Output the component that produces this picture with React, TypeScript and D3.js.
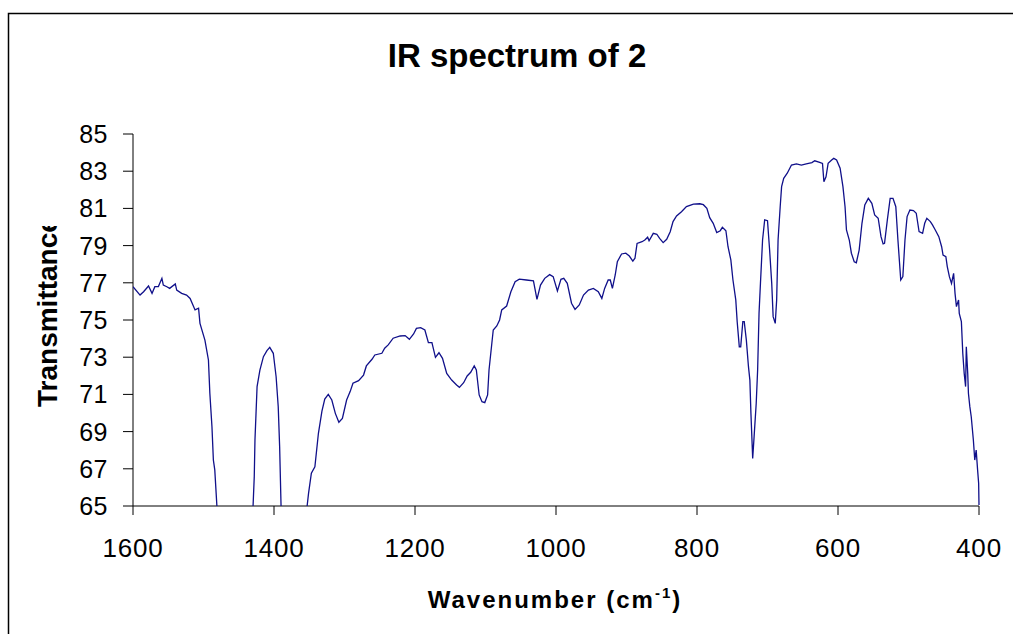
import React, { useEffect } from 'react';
import * as d3 from 'd3';

// IR spectrum: wavenumber (cm-1) and % transmittance
const wavenumbers = [
  1600, 1590, 1585, 1578, 1573, 1569, 1564, 1559, 1557, 1552, 1548, 1540, 1538, 1531, 1524, 1519,
  1512, 1507, 1505, 1498, 1493, 1491, 1488, 1486, 1484, 1481, 1478, 1465, 1450, 1438, 1431, 1428,
  1427, 1425.5, 1424, 1420, 1415, 1410, 1406, 1401, 1397, 1394, 1392, 1390, 1387, 1375, 1362, 1356,
  1351, 1347, 1342, 1337, 1332, 1328, 1323, 1318, 1313, 1308, 1303, 1297, 1292, 1288, 1280, 1273,
  1269, 1261, 1257, 1247, 1243, 1238, 1231, 1221, 1214, 1208, 1202, 1198, 1192, 1186, 1181, 1176,
  1171, 1166, 1161, 1155, 1148, 1141, 1137, 1131, 1126, 1121, 1116, 1113, 1109, 1105, 1101, 1097,
  1095, 1091, 1089, 1084, 1080, 1077, 1070, 1064, 1058, 1052, 1042, 1032, 1027, 1022, 1016, 1009,
  1004, 998, 993, 989, 984, 978, 973, 967, 961, 954, 947, 940, 935, 931, 926, 923,
  920, 916, 913, 907, 901, 896, 891, 888, 885, 878, 874, 870, 868, 862, 857, 853,
  848, 843, 838, 834, 829, 822, 815, 805, 796, 791, 786, 782, 777, 772, 767, 764,
  759, 756, 752, 749, 745, 743, 740, 738, 735, 733, 730, 727, 725, 723.5, 721, 719,
  716, 714, 712, 710, 707, 704, 700, 697, 694, 692, 689, 687, 685, 682, 680, 677,
  672, 666, 659, 652, 645, 637, 633, 626, 622, 620, 617, 614, 609, 606, 602, 597,
  593, 590, 588, 584, 581, 577, 574, 570, 566, 562, 557, 552, 548, 543, 539, 536,
  534, 530, 526, 522, 518, 515, 511, 508, 505, 502, 498, 493, 489, 485, 480, 477,
  474, 469, 466, 462, 457, 453, 451, 447, 445, 442, 439, 436, 434, 432, 429, 428,
  425, 423, 421, 419, 418, 416, 415, 413, 411, 408, 406, 404, 402, 400.5, 400,
];
const transmittance = [
  76.79, 76.34, 76.52, 76.83, 76.43, 76.79, 76.8, 77.24, 76.88, 76.79, 76.7, 76.94, 76.61, 76.43, 76.34, 76.16,
  75.54, 75.63, 74.82, 73.92, 72.85, 71.06, 69.26, 67.47, 66.94, 65.0, 63.5, 59.5, 58.0, 60.5, 63.8, 66.58,
  68.55, 69.98, 71.42, 72.31, 73.03, 73.35, 73.53, 73.21, 71.95, 70.34, 68.19, 65.0, 62.5, 58.5, 61.0, 64.0,
  65.68, 66.76, 67.11, 68.91, 70.1, 70.75, 71.0, 70.7, 69.98, 69.5, 69.71, 70.7, 71.15, 71.6, 71.74, 72.04,
  72.53, 72.89, 73.12, 73.21, 73.48, 73.66, 74.02, 74.14, 74.16, 73.96, 74.25, 74.55, 74.59, 74.46, 73.78, 73.78,
  72.99, 73.24, 72.94, 72.13, 71.77, 71.51, 71.38, 71.63, 71.99, 72.19, 72.53, 72.31, 70.97, 70.61, 70.56, 70.97,
  72.31, 73.75, 74.46, 74.68, 75.0, 75.54, 75.75, 76.52, 77.06, 77.2, 77.15, 77.1, 76.11, 76.88, 77.24, 77.44,
  77.33, 76.56, 77.19, 77.24, 76.97, 75.9, 75.57, 75.81, 76.34, 76.61, 76.7, 76.52, 76.16, 76.7, 77.15, 77.15,
  76.7, 77.42, 78.13, 78.55, 78.59, 78.44, 78.17, 78.32, 79.12, 79.21, 79.3, 79.45, 79.26, 79.66, 79.61, 79.39,
  79.16, 79.34, 79.75, 80.29, 80.59, 80.82, 81.1, 81.23, 81.25, 81.2, 81.0, 80.5, 80.2, 79.7, 79.8, 79.98,
  79.8, 78.94, 78.23, 77.15, 76.08, 74.91, 73.56, 73.56, 74.91, 74.91, 73.92, 72.49, 71.77, 69.98, 67.56, 68.73,
  70.52, 72.31, 75.36, 76.97, 79.3, 80.38, 80.34, 78.76, 76.97, 75.18, 74.82, 76.08, 79.3, 81.09, 82.17, 82.62,
  82.89, 83.33, 83.39, 83.33, 83.39, 83.46, 83.56, 83.48, 83.42, 82.44, 82.7, 83.42, 83.6, 83.69, 83.6, 83.16,
  82.17, 81.09, 79.84, 79.3, 78.59, 78.13, 78.08, 78.76, 80.2, 81.18, 81.54, 81.27, 80.65, 80.47, 79.48, 79.09,
  79.12, 80.38, 81.54, 81.54, 81.09, 79.3, 77.15, 77.33, 79.3, 80.56, 80.91, 80.88, 80.74, 79.75, 79.66, 80.2,
  80.47, 80.29, 80.11, 79.84, 79.48, 78.94, 78.49, 78.4, 77.87, 77.33, 76.97, 77.51, 76.43, 75.72, 76.08, 75.36,
  74.91, 73.21, 72.13, 71.42, 73.56, 72.13, 71.06, 70.34, 69.8, 68.55, 67.47, 68.01, 66.94, 66.22, 65.05,
];
const xTicks = [1600, 1400, 1200, 1000, 800, 600, 400];
const yTicks = [65, 67, 69, 71, 73, 75, 77, 79, 81, 83, 85];

const W = 1013;
const H = 634;
const font = 'Arial, "Liberation Sans", sans-serif';

export default function App() {
  useEffect(() => {
    document.body.style.margin = '0';
  }, []);

  const x = d3.scaleLinear().domain([1600, 400]).range([133, 979]);
  const y = d3.scaleLinear().domain([65, 85]).range([506, 134]);

  const points: [number, number][] = wavenumbers.map((w, i) => [w, transmittance[i]]);
  const line = d3
    .line<[number, number]>()
    .x((d) => x(d[0]))
    .y((d) => y(d[1]));

  const [x0, x1] = x.range();
  const [y0, y1] = y.range();

  return (
    <svg width={W} height={H} style={{ display: 'block', background: '#fff' }}>
      <defs>
        <clipPath id="plot">
          <rect x={x0} y={y1 - 2} width={x1 - x0 + 2} height={y0 - y1 + 2} />
        </clipPath>
        <clipPath id="ylab">
          <rect x={0} y={226} width={120} height={300} />
        </clipPath>
      </defs>

      {/* outer frame, runs off the page on the right and bottom */}
      <rect x={8.5} y={13.5} width={1100} height={1000} fill="none" stroke="#000" strokeWidth={1.5} />

      <text x={517} y={67} textAnchor="middle" fontFamily={font} fontSize={33} fontWeight="bold">
        IR spectrum of 2
      </text>

      {/* y axis */}
      <line x1={x0} x2={x0} y1={y1} y2={y0} stroke="#000" />
      {yTicks.map((t) => (
        <g key={t}>
          <line x1={x0 - 10} x2={x0} y1={y(t)} y2={y(t)} stroke="#000" />
          <text x={108} y={y(t)} dy="0.36em" textAnchor="end" fontFamily={font} fontSize={25} letterSpacing={0.5}>
            {t}
          </text>
        </g>
      ))}

      {/* x axis */}
      <line x1={x0} x2={x1} y1={y0} y2={y0} stroke="#000" />
      {xTicks.map((t) => (
        <g key={t}>
          <line x1={x(t)} x2={x(t)} y1={y0} y2={y0 + 9} stroke="#000" />
          <text x={x(t)} y={557} textAnchor="middle" fontFamily={font} fontSize={26} letterSpacing={0.8}>
            {t}
          </text>
        </g>
      ))}

      <path d={line(points) || ''} fill="none" stroke="#10108a" strokeWidth={1.3} clipPath="url(#plot)" />

      <g clipPath="url(#ylab)">
        <text
          transform="translate(57,407) rotate(-90)"
          fontFamily={font}
          fontSize={28}
          fontWeight="bold"
        >
          Transmittance
        </text>
      </g>

      <text x={555} y={608} textAnchor="middle" fontFamily={font} fontSize={24} fontWeight="bold" letterSpacing={2}>
        Wavenumber (cm<tspan fontSize={15} dy={-10}>-1</tspan>
        <tspan dy={10}>)</tspan>
      </text>
    </svg>
  );
}
